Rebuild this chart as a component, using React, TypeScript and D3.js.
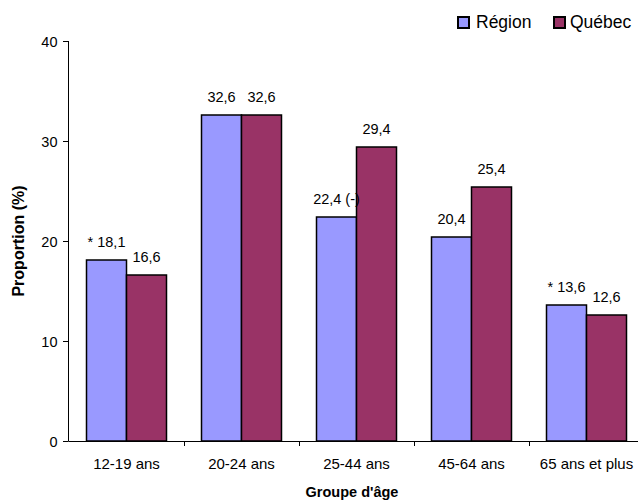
import React from "react";
import * as d3 from "d3";

const categories = ["12-19 ans", "20-24 ans", "25-44 ans", "45-64 ans", "65 ans et plus"];
const regionValues = [18.1, 32.6, 22.4, 20.4, 13.6];
const quebecValues = [16.6, 32.6, 29.4, 25.4, 12.6];
const regionPrefix = ["* ", "", "", "", "* "];
const regionSuffix = ["", "", " (-)", "", ""];
const yTicks = [0, 10, 20, 30, 40];
const seriesNames = ["Région", "Québec"];

const W = 638;
const H = 500;
const FONT = "Liberation Sans, Arial, sans-serif";
const COLORS = ["#9999FF", "#993366"];
const LABEL_SIZE = 14.5;

const fmt = (v: number) => v.toFixed(1).replace(".", ",");

export default function App() {
  const x = d3.scaleBand<string>().domain(categories).range([69, 644]);
  const y = d3.scaleLinear().domain([0, 40]).range([441, 41]);
  const pad = 17.5;
  const barW = (x.bandwidth() - pad * 2) / 2;

  const series = [regionValues, quebecValues];

  return (
    <svg
      width={W}
      height={H}
      style={{ position: "absolute", left: 0, top: 0, background: "#fff" }}
      fontFamily={FONT}
    >
      {/* bars */}
      {series.map((vals, si) =>
        vals.map((v, i) => {
          const bx = (x(categories[i]) as number) + pad + si * barW;
          return (
            <rect
              key={`b${si}-${i}`}
              x={bx}
              y={y(v)}
              width={barW}
              height={y(0) - y(v)}
              fill={COLORS[si]}
              stroke="#000"
              strokeWidth={1.5}
            />
          );
        })
      )}
      {/* value labels */}
      {series.map((vals, si) =>
        vals.map((v, i) => {
          const bx = (x(categories[i]) as number) + pad + si * barW + barW / 2;
          const txt =
            si === 0 ? `${regionPrefix[i]}${fmt(v)}${regionSuffix[i]}` : fmt(v);
          return (
            <text
              key={`l${si}-${i}`}
              x={bx}
              y={y(v) - 13.5}
              textAnchor="middle"
              fontSize={LABEL_SIZE}
              fill="#000"
            >
              {txt}
            </text>
          );
        })
      )}
      {/* y axis */}
      <line x1={68.5} x2={68.5} y1={41} y2={441} stroke="#000" />
      {yTicks.map((t) => (
        <g key={`yt${t}`}>
          <line x1={63} x2={68.5} y1={y(t) + 0.5} y2={y(t) + 0.5} stroke="#000" />
          <text x={57.5} y={y(t) + 5.5} textAnchor="end" fontSize={LABEL_SIZE}>
            {t}
          </text>
        </g>
      ))}
      {/* x axis */}
      <line x1={68.5} x2={W} y1={441.5} y2={441.5} stroke="#000" />
      {categories.map((c, i) => {
        const bx = x(c) as number;
        return (
          <g key={`xt${i}`}>
            {i > 0 && (
              <line x1={bx + 0.5} x2={bx + 0.5} y1={441.5} y2={446} stroke="#000" />
            )}
            <text x={bx + x.bandwidth() / 2} y={468.5} textAnchor="middle" fontSize={15}>
              {c}
            </text>
          </g>
        );
      })}
      {/* axis titles */}
      <text x={352} y={497} textAnchor="middle" fontSize={14.5} fontWeight="bold">
        Groupe d'âge
      </text>
      <text
        transform={`translate(24,241) rotate(-90)`}
        textAnchor="middle"
        fontSize={16}
        fontWeight="bold"
      >
        Proportion (%)
      </text>
      {/* legend */}
      {seriesNames.map((n, i) => {
        const lx = [458, 554][i];
        const tx = [476, 570][i];
        return (
          <g key={`lg${i}`}>
            <rect x={lx} y={17} width={11} height={11} fill={COLORS[i]} stroke="#000" strokeWidth={2} />
            <text x={tx} y={28} fontSize={17.5}>
              {n}
            </text>
          </g>
        );
      })}
    </svg>
  );
}
